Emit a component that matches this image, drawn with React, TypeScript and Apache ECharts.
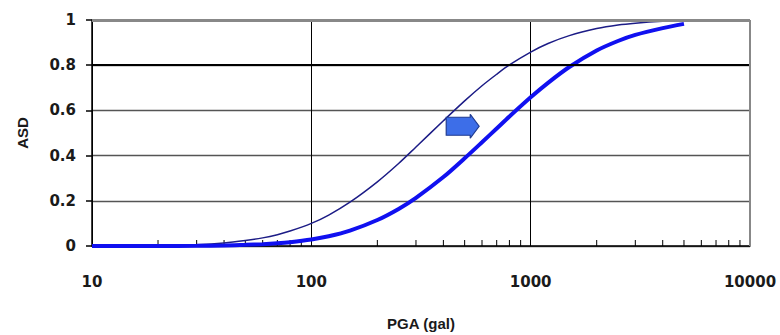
import React, { useEffect, useRef } from "react";
import * as echarts from "echarts";

const pga = [10, 20, 30, 40, 50, 60, 70, 80, 100, 120, 150, 200, 250, 300, 400, 500, 600, 700, 800, 1000, 1200, 1500, 2000, 2500, 3000, 4000, 5000];
const asdBefore = [0.0001, 0.002, 0.006, 0.013, 0.024, 0.036, 0.05, 0.066, 0.1, 0.137, 0.194, 0.284, 0.365, 0.438, 0.554, 0.642, 0.709, 0.76, 0.801, 0.858, 0.896, 0.931, 0.962, 0.978, 0.986, 0.994, 0.997];
const asdAfter = [0.0, 0.0002, 0.001, 0.0025, 0.005, 0.008, 0.012, 0.017, 0.029, 0.043, 0.068, 0.115, 0.164, 0.213, 0.305, 0.388, 0.459, 0.52, 0.573, 0.658, 0.722, 0.792, 0.865, 0.907, 0.934, 0.964, 0.983];
const minorTicks = [20, 30, 40, 50, 60, 70, 80, 90, 200, 300, 400, 500, 600, 700, 800, 900, 2000, 3000, 4000, 5000, 6000, 7000, 8000, 9000];
const arrowAt = [490, 0.53];

export default function App() {
  const ref = useRef<HTMLDivElement>(null);
  useEffect(() => {
    const chart = echarts.init(ref.current!, null, { renderer: "svg" });
    const labelFont = "DejaVu Sans, sans-serif";
    const nameFont = "Liberation Sans, Arial, sans-serif";
    chart.setOption({
      animation: false,
      backgroundColor: "#fff",
      grid: { left: 92, right: 30, top: 20, bottom: 89, outerBoundsMode: "none", containLabel: false },
      xAxis: {
        type: "log",
        logBase: 10,
        min: 10,
        max: 10000,
        name: "PGA (gal)",
        nameLocation: "middle",
        nameGap: 70,
        nameTextStyle: { fontFamily: nameFont, fontSize: 15, fontWeight: "bold", color: "#1a1a1a" },
        axisLine: { show: true, onZero: false, lineStyle: { color: "#000", width: 1.5 } },
        axisTick: { show: false },
        axisLabel: {
          margin: 28,
          fontFamily: labelFont,
          fontSize: 15,
          fontWeight: "bold",
          color: "#1a1a1a",
          formatter: (v: number) => String(Math.round(v)),
        },
        splitLine: { show: true, lineStyle: { color: "#000", width: 1 } },
      },
      yAxis: {
        type: "value",
        min: 0,
        max: 1,
        interval: 0.2,
        name: "ASD",
        nameLocation: "middle",
        nameGap: 62,
        nameRotate: 90,
        nameTextStyle: { fontFamily: nameFont, fontSize: 15, fontWeight: "bold", color: "#1a1a1a" },
        axisLine: { show: true, lineStyle: { color: "#000", width: 1.5 } },
        axisTick: { show: true, length: 6, lineStyle: { color: "#000", width: 1.5 } },
        axisLabel: { margin: 16, fontFamily: labelFont, fontSize: 15, fontWeight: "bold", color: "#1a1a1a" },
        splitLine: { show: true, lineStyle: { color: "#555", width: 1.3 } },
      },
      series: [
        {
          type: "custom",
          silent: true,
          data: minorTicks.map((v) => [v, 0]),
          renderItem: (params: any, api: any) => {
            const p = api.coord([api.value(0), 0]);
            return {
              type: "line",
              shape: { x1: p[0], y1: p[1], x2: p[0], y2: p[1] - 6 },
              style: { stroke: "#000", lineWidth: 1 },
            };
          },
          z: 1,
        },
        {
          type: "line",
          data: pga.map((x, i) => [x, asdBefore[i]]),
          showSymbol: false,
          smooth: 0.3,
          lineStyle: { color: "#1c1c86", width: 1.5 },
          z: 3,
          markLine: {
            silent: true,
            symbol: "none",
            label: { show: false },
            data: [
              { yAxis: 0.8, lineStyle: { color: "#000", width: 2, type: "solid" } },
              { yAxis: 1, lineStyle: { color: "#888", width: 3, type: "solid" } },
              { xAxis: 10000, lineStyle: { color: "#888", width: 2, type: "solid" } },
            ],
          },
        },
        {
          type: "line",
          data: pga.map((x, i) => [x, asdAfter[i]]),
          showSymbol: false,
          smooth: 0.3,
          lineStyle: { color: "#1010f0", width: 4 },
          z: 4,
          markPoint: {
            silent: true,
            symbol: "path://M0,3 L24,3 L24,0 L33,12 L24,24 L24,21 L0,21 Z",
            symbolSize: [33, 24],
            label: { show: false },
            itemStyle: { color: "#3d6ee8", borderColor: "#1f3a8f", borderWidth: 1 },
            data: [{ coord: arrowAt }],
          },
        },
      ],
    });
    return () => chart.dispose();
  }, []);
  return <div ref={ref} style={{ position: "fixed", left: 0, top: 0, width: 780, height: 335 }} />;
}
